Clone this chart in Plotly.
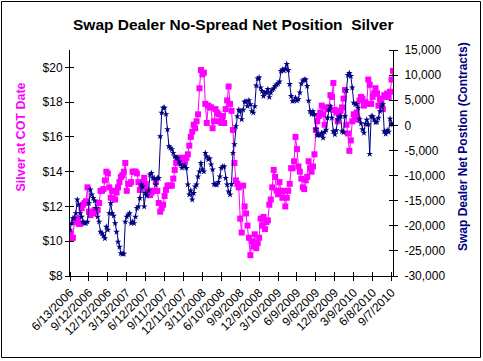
import plotly.graph_objects as go
import pandas as pd

# Weekly COT report dates (first: 6/13/2006)
start_date = "2006-06-13"

# Silver price at COT date ($) - left axis
silver = [
    10.46, 10.17, 10.2, 11.1, 11.3, 11.3, 11.0, 11.0, 11.9, 12.1, 12.2, 12.3, 13.1,
    11.7, 11.5, 11.7, 11.6, 11.8, 11.7, 11.8, 12.2, 12.9, 12.9, 13.0, 13.5, 14.0,
    13.9, 13.1, 12.5, 12.9, 12.9, 12.4, 12.8, 13.1, 13.4, 13.7, 13.8, 14.0, 14.5,
    12.9, 13.3, 13.3, 13.4, 14.0, 14.0, 14.0, 13.9, 13.4, 12.95, 13.2, 13.4, 13.65,
    13.3, 12.95, 12.8, 12.65, 12.8, 12.9, 12.9, 13.4, 12.9, 12.2, 11.7, 11.9, 12.1,
    12.6, 12.95, 13.2, 13.2, 13.2, 13.2, 13.6, 14.1, 14.5, 14.8, 14.6, 14.5, 14.8,
    14.7, 14.6, 14.8, 15.0, 15.5, 16.0, 16.3, 16.7, 16.5, 16.9, 17.3, 18.8, 19.85,
    19.6, 19.7, 17.9, 16.8, 17.8, 17.7, 17.7, 16.5, 16.9, 17.6, 17.4, 17.3, 16.9,
    16.8, 17.2, 16.8, 17.6, 18.1, 18.9, 17.9, 17.5, 16.4, 14.5, 13.5, 13.3, 13.1,
    11.3, 10.5, 13.2, 12.0, 11.6, 10.9, 10.2, 9.2, 10.0, 9.7, 10.4, 9.6, 9.9,
    10.2, 11.3, 10.9, 11.4, 10.7, 11.1, 11.2, 12.1, 12.4, 13.1, 14.1, 13.7, 12.9,
    12.7, 13.4, 12.9, 12.5, 12.9, 12.0, 12.5, 12.9, 13.3, 14.2, 14.2, 14.6, 16.0,
    15.3, 14.3, 14.0, 13.6, 13.1, 13.0, 13.5, 13.7, 14.6, 14.2, 14.0, 14.3, 15.0,
    16.4, 16.9, 17.2, 17.4, 17.8, 17.3, 16.7, 17.7, 17.6, 17.7, 18.4, 18.3, 19.1,
    17.55, 17.4, 16.9, 17.3, 17.5, 17.7, 18.2, 18.7, 16.7, 16.2, 15.2, 15.8, 16.9,
    17.3, 17.2, 17.4, 17.0, 18.1, 18.3, 18.2, 17.8, 18.0, 17.9, 19.3, 19.0, 17.9,
    18.3, 18.5, 18.8, 18.5, 17.8, 18.2, 17.9, 17.6, 18.4, 18.3, 18.5, 18.3, 18.6,
    19.3, 19.8,
]

# Swap dealer no-spread net position (contracts) - right axis
swap_net = [
    -20800, -19500, -18500, -18500, -17500, -14800, -15800, -17500, -18200, -19200, -19500, -19500, -19200,
    -15500, -12800, -13800, -14500, -15000, -16500, -18200, -19200, -21200, -21500, -22000, -22500, -20200,
    -20800, -17500, -15500, -17500, -18000, -19500, -21200, -23200, -24200, -25500, -25600, -25600, -19200,
    -18200, -17800, -17500, -19500, -19200, -19500, -18200, -16500, -16200, -14500, -11800, -12200, -16200,
    -13500, -14000, -13000, -9800, -9500, -10500, -10500, -11800, -10500, -10500, -2200, 2500, 3500,
    3500, 2200, -800, -4200, -4500, -4800, -5500, -6200, -6500, -6500, -7200, -7800, -8500,
    -8200, -8000, -8500, -11800, -13800, -13000, -14800, -13500, -12200, -11800, -10200, -9200, -7500,
    -8800, -9200, -5500, -6200, -6800, -6600, -7800, -8800, -11700, -11800, -11800, -11300, -10200,
    -8500, -8200, -8200, -10500, -11800, -13200, -13800, -11700, -5500, -3800, -200, 1800, 3100,
    2800, 1200, 3100, 4700, 4800, 3800, 5000, 4200, 2800, 2500, 3800, 7900, 9300,
    9500, 7500, 6800, 5800, 6500, 6500, 7200, 5600, 6500, 7100, 7300, 7800, 8100,
    8300, 8700, 10800, 11100, 10900, 11300, 12200, 11000, 8200, 5800, 4800, 4900, 5500,
    4900, 5200, 6500, 8300, 8900, 9100, 9100, 7800, 4900, 2800, 2200, 2800, 2200,
    -800, -2000, -1800, -2000, -1500, -2500, -1300, -900, 1500, 3100, 3800, 1500, -1200,
    -1800, -1000, 1200, 1700, 1800, -1200, -1400, 1800, 7000, 10000, 10400, 9800, 7500,
    4500, 4200, 4200, 3500, 1200, 400, -800, -1500, 300, 1100, 200, -5700, 1800,
    1800, 1200, 600, 700, 1500, 2800, 3800, 4200, -1200, -1700, -1000, -1300, 1300,
    300, 200,
]

n = min(len(silver), len(swap_net))
dates = pd.date_range(start=start_date, periods=n, freq="7D")

x_tick_labels = ["6/13/2006", "9/12/2006", "12/12/2006", "3/13/2007", "6/12/2007",
                 "9/11/2007", "12/11/2007", "3/11/2008", "6/10/2008", "9/9/2008",
                 "12/9/2008", "3/10/2009", "6/9/2009", "9/8/2009", "12/8/2009",
                 "3/9/2010", "6/8/2010", "9/7/2010"]
x_tick_vals = [pd.Timestamp(s) for s in x_tick_labels]

left_vals = [8, 10, 12, 14, 16, 18, 20]
left_text = ["$8", "$10", "$12", "$14", "$16", "$18", "$20"]
right_vals = [-30000, -25000, -20000, -15000, -10000, -5000, 0, 5000, 10000, 15000]
right_text = ["-30,000", "-25,000", "-20,000", "-15,000", "-10,000", "-5,000",
              "0", "5,000", "10,000", "15,000"]

FONT = "Liberation Sans, Arial, sans-serif"
PINK = "#FF00FF"
NAVY = "#000080"

fig = go.Figure()
fig.add_trace(go.Scatter(
    x=dates, y=silver[:n], mode="lines+markers", name="Silver",
    line=dict(color=PINK, width=1),
    marker=dict(symbol="square", size=6, color=PINK, line=dict(width=0)),
    yaxis="y",
))
fig.add_trace(go.Scatter(
    x=dates, y=swap_net[:n], mode="lines+markers", name="Swap Dealer",
    line=dict(color=NAVY, width=1),
    marker=dict(symbol="star", size=5, color=NAVY, line=dict(width=0)),
    yaxis="y2",
))

L, R, T, B = 70, 90, 50, 85
W, H = 483, 361
PW, PH = W - L - R, H - T - B

def px_x(px):
    return (px - L) / PW

def px_y(py):
    return (H - B - py) / PH

tick_font = dict(family=FONT, size=12, color="black")

fig.update_layout(
    template="none",
    width=W, height=H,
    margin=dict(l=L, r=R, t=T, b=B, pad=0, autoexpand=False),
    paper_bgcolor="white", plot_bgcolor="white",
    showlegend=False,
    xaxis=dict(
        automargin=False,
        range=[dates[0], dates[n - 1]],
        tickmode="array", tickvals=x_tick_vals, ticktext=x_tick_labels,
        tickangle=-45, tickfont=tick_font,
        showline=True, linecolor="black", linewidth=1, mirror=False,
        ticks="outside", ticklen=4, tickcolor="black", tickwidth=1,
        minor=dict(tickmode="array", tickvals=x_tick_vals, ticks="inside",
                   ticklen=4, tickcolor="black", tickwidth=1),
        showgrid=False, zeroline=False,
    ),
    yaxis=dict(
        automargin=False,
        range=[8, 21],
        tickmode="array", tickvals=left_vals, ticktext=left_text,
        tickfont=tick_font,
        showline=True, linecolor="black", linewidth=1,
        ticks="outside", ticklen=4, tickcolor="black", tickwidth=1,
        minor=dict(tickmode="array", tickvals=left_vals, ticks="inside",
                   ticklen=4, tickcolor="black", tickwidth=1),
        showgrid=False, zeroline=False,
    ),
    yaxis2=dict(
        automargin=False,
        range=[-30000, 15000], overlaying="y", side="right",
        tickmode="array", tickvals=right_vals, ticktext=right_text,
        tickfont=tick_font, ticklabelstandoff=4,
        showline=True, linecolor="black", linewidth=1,
        ticks="outside", ticklen=4, tickcolor="black", tickwidth=1,
        minor=dict(tickmode="array", tickvals=right_vals, ticks="inside",
                   ticklen=4, tickcolor="black", tickwidth=1),
        showgrid=False, zeroline=False,
    ),
    annotations=[
        dict(text="<b>Swap Dealer No-Spread Net Position  Silver</b>",
             xref="paper", yref="paper", x=px_x(233), y=px_y(24),
             xanchor="center", yanchor="middle", showarrow=False,
             font=dict(family=FONT, size=15.5, color="black")),
        dict(text="<b>Silver at COT Date</b>",
             xref="paper", yref="paper", x=px_x(20), y=px_y(137.5),
             xanchor="center", yanchor="middle", showarrow=False, textangle=-90,
             font=dict(family=FONT, size=12.5, color=PINK)),
        dict(text="<b>Swap Dealer Net Postion (Contracts)</b>",
             xref="paper", yref="paper", x=px_x(463), y=px_y(147),
             xanchor="center", yanchor="middle", showarrow=False, textangle=-90,
             font=dict(family=FONT, size=12, color=NAVY)),
    ],
    shapes=[
        dict(type="rect", xref="paper", yref="paper",
             x0=px_x(1.5), x1=px_x(480.5), y0=px_y(357.5), y1=px_y(1.5),
             line=dict(color="black", width=1), fillcolor="rgba(0,0,0,0)",
             layer="below"),
    ],
)

fig.write_html(
    "out.html",
    config={"displayModeBar": False},
    post_script="document.body.style.margin='0px';document.body.style.padding='0px';document.body.style.overflow='hidden';",
)
